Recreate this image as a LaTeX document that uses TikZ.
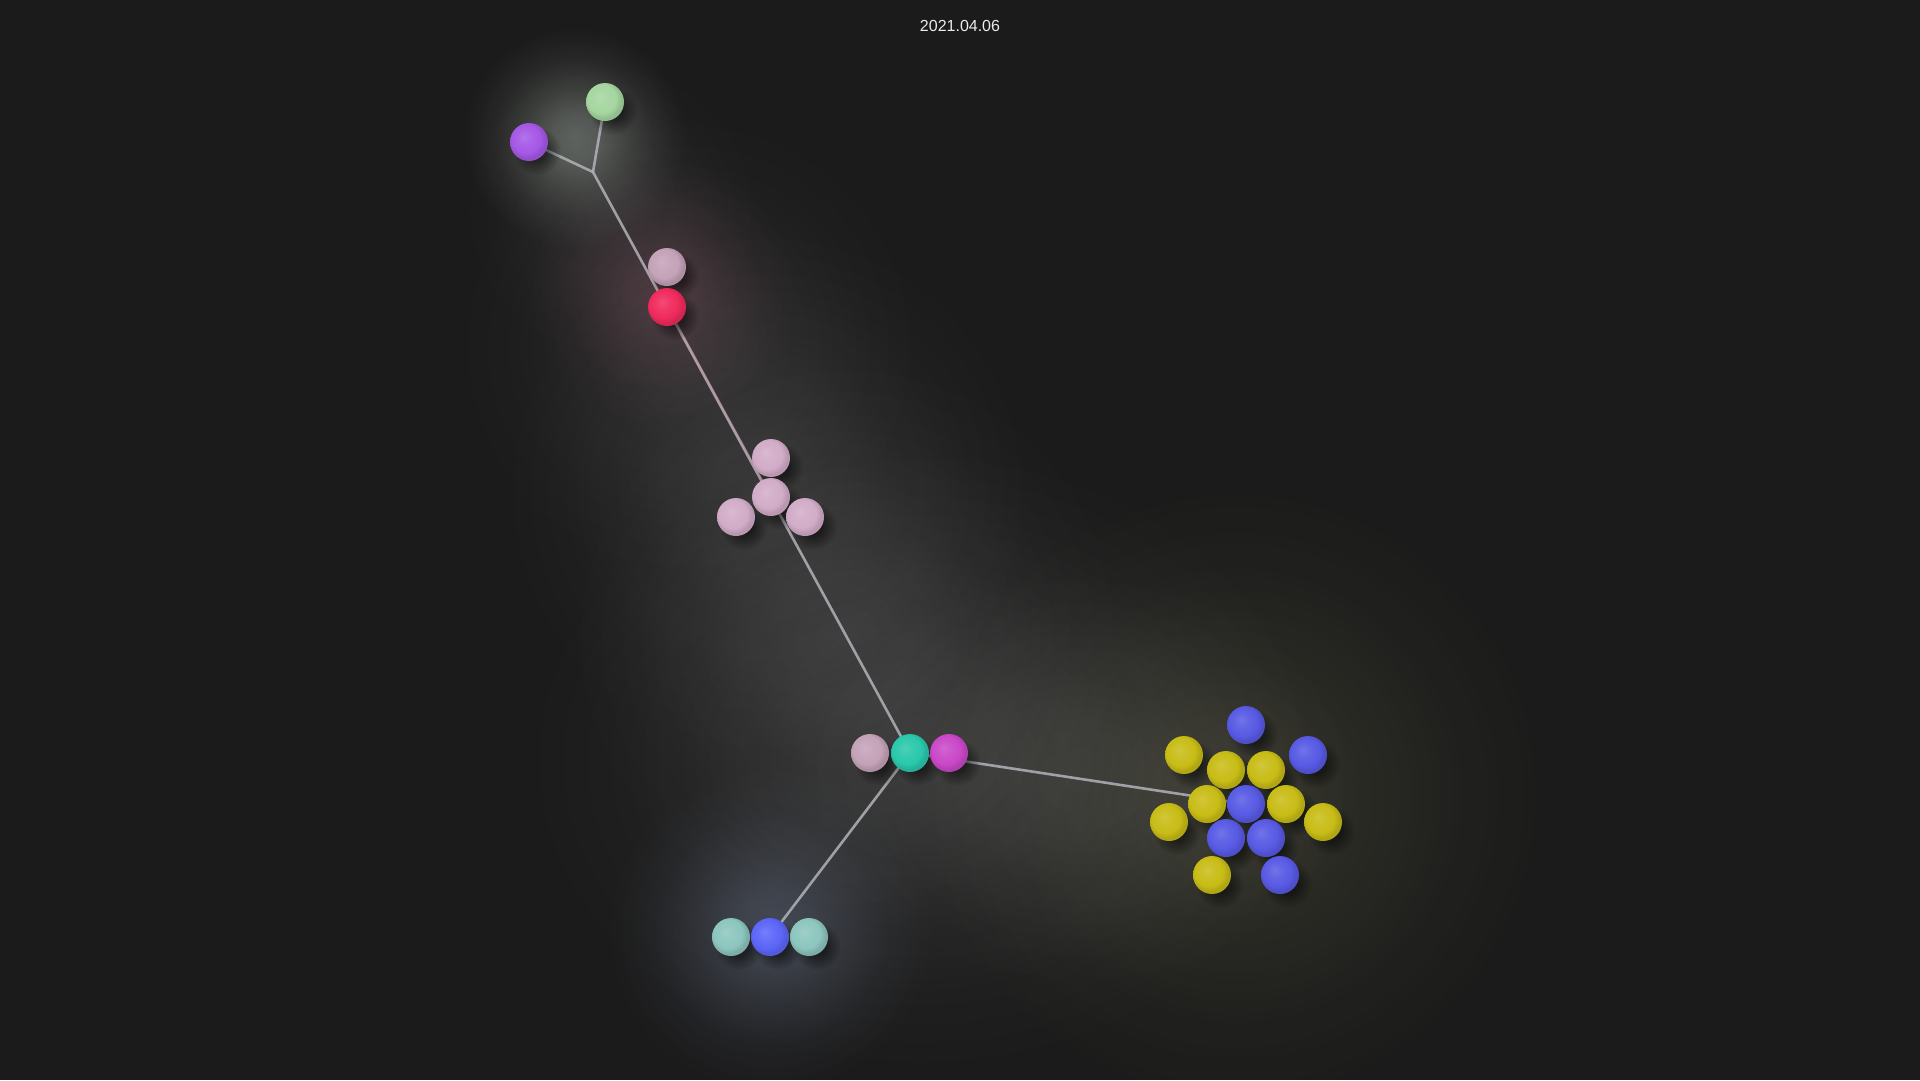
\documentclass[tikz,border=0pt]{standalone}
\usepackage{fontspec}
\setmainfont{Liberation Sans}
\usetikzlibrary{fadings}
\pgfdeclarelayer{bg}\pgfdeclarelayer{edges}
\pgfsetlayers{bg,edges,main}
\colorlet{ballbase}{gray}
\definecolor{bgc}{RGB}{27,27,27}
\definecolor{cpurple}{RGB}{165,88,230}
\definecolor{cgreen}{RGB}{165,214,160}
\definecolor{cmauve}{RGB}{196,162,184}
\definecolor{cpink}{RGB}{210,172,200}
\definecolor{cred}{RGB}{240,42,92}
\definecolor{ccyan}{RGB}{42,200,172}
\definecolor{cmag}{RGB}{202,72,200}
\definecolor{cteal}{RGB}{140,198,190}
\definecolor{cblue}{RGB}{88,90,228}
\definecolor{cblueb}{RGB}{92,102,248}
\definecolor{cyel}{RGB}{200,188,22}
\definecolor{edgec}{RGB}{178,178,186}
\definecolor{edgepink}{RGB}{200,150,170}
\definecolor{gyel}{RGB}{200,200,140}
\definecolor{gblue}{RGB}{175,195,240}
\definecolor{gred}{RGB}{215,120,150}
\definecolor{gtop}{RGB}{225,238,225}
\pgfdeclareradialshading{glowshade}{\pgfpointorigin}{color(0bp)=(black!0); color(5bp)=(black!15); color(11bp)=(black!50); color(17bp)=(black!80); color(23bp)=(black!97); color(25bp)=(black!100); color(50bp)=(black!100)}
\pgfdeclarefading{glowfade}{\pgfuseshading{glowshade}}
\pgfdeclareradialshading{shadshade}{\pgfpointorigin}{color(0bp)=(black!0); color(10bp)=(black!20); color(25bp)=(black!100); color(50bp)=(black!100)}
\pgfdeclarefading{shadowfade}{\pgfuseshading{shadshade}}
\pgfdeclareradialshading[ballbase]{softsphere}{\pgfpoint{-7bp}{7bp}}{color(0bp)=(ballbase!84!white); color(10bp)=(ballbase!94!white); color(19bp)=(ballbase); color(25bp)=(ballbase!88!black); color(50bp)=(ballbase!88!black)}
\tikzset{
  ball/.style={circle, minimum size=38pt, inner sep=0pt, /utils/exec={\colorlet{ballbase}{#1}}, shade, shading=softsphere},
  edge/.style={draw=edgec, line width=2.6pt, draw opacity=0.85},
  glow/.style={fill=#1, path fading=glowfade},
  shadowc/.style={fill=black, fill opacity=0.6, path fading=shadowfade}
}
\def\balls{p1/529/142/cpurple, g1/605/102/cgreen, k1/667/267/cmauve, r1/667/307/cred, t1/771/458/cpink, t2/771/497/cpink, t3/736/517/cpink, t4/805/517/cpink, h1/870/753/cmauve, hc/910/753/ccyan, hm/949/753/cmag, b1/731/937/cteal, b2/770/937/cblueb, b3/809/937/cteal, c1/1246/725/cblue, c2/1184/755/cyel, c3/1308/755/cblue, c4/1226/770/cyel, c5/1266/770/cyel, c6/1207/804/cyel, c7/1246/804/cblue, c8/1286/804/cyel, c9/1169/822/cyel, c10/1323/822/cyel, c11/1226/838/cblue, c12/1266/838/cblue, c13/1212/875/cyel, c14/1280/875/cblue}
\begin{document}
\begin{tikzpicture}[x=1pt,y=-1pt]
\useasboundingbox (0,0) rectangle (1920,1080);
\begin{pgfonlayer}{bg}
\fill[bgc] (0,0) rectangle (1920,1080);
% haze band along the long branch
\fill[glow=white, fill opacity=0.06] (610,210) circle (170);
\fill[glow=white, fill opacity=0.07] (688,346) circle (260);
\fill[glow=white, fill opacity=0.09] (767,492) circle (290);
\fill[glow=white, fill opacity=0.08] (847,637) circle (310);
\fill[glow=white, fill opacity=0.10] (920,760) ellipse (430 and 340);
\fill[glow=white, fill opacity=0.06] (1080,780) ellipse (320 and 240);
\fill[glow=gyel, fill opacity=0.15] (1235,795) circle (330);
\fill[glow=gblue, fill opacity=0.24] (770,930) circle (170);
\fill[glow=gred, fill opacity=0.18] (662,292) circle (145);
\fill[glow=gtop, fill opacity=0.32] (575,138) circle (115);
\end{pgfonlayer}
\foreach \n/\x/\y/\c in \balls {
  \fill[shadowc] (\x+8,\y+9) circle (24);
}
\foreach \n/\x/\y/\c in \balls {
  \node[ball=\c] (\n) at (\x,\y) {};
}
\coordinate (J) at (593,172);
\begin{pgfonlayer}{edges}
\draw[edge] (J) -- (p1.center);
\draw[edge] (J) -- (g1.center);
\draw[edge] (J) -- (hc.center);
\draw[edge] (hc.center) -- (b2.center);
\draw[edge] (hc.center) -- (c7.center);
\draw[draw=edgepink, line width=2.6pt, draw opacity=0.45] (r1.center) -- (t2.center);
\end{pgfonlayer}
\node[text=white!92!black, font=\fontsize{16}{19}\selectfont] (date) at (960,26) {2021.04.06};
\end{tikzpicture}
\end{document}
